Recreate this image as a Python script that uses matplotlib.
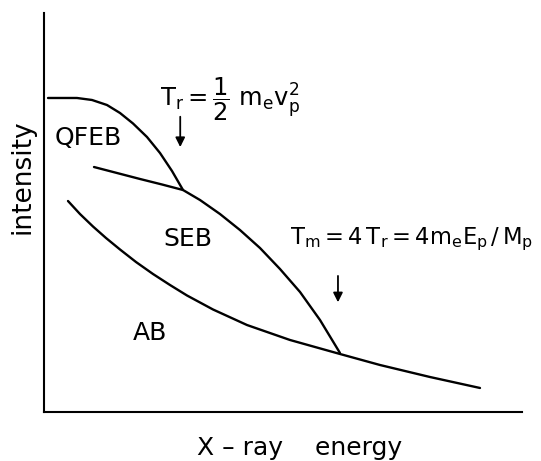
import matplotlib.pyplot as plt

plt.rcParams['font.family'] = 'DejaVu Sans'
plt.rcParams['mathtext.fontset'] = 'dejavusans'
plt.rcParams['mathtext.default'] = 'regular'

# schematic spectrum components (energy, intensity in arbitrary units)
qfeb_x = [0.84, 6.90, 10.04, 13.18, 15.90, 18.62, 21.55, 24.27, 26.78, 29.08]
qfeb_y = [78.70, 78.70, 78.20, 76.94, 74.94, 72.31, 68.92, 64.91, 60.40, 55.64]

seb_x = [10.46, 15.27, 20.08, 24.69, 29.08, 32.64, 36.82, 41.00, 45.19, 49.37, 53.56, 57.74, 61.92]
seb_y = [61.40, 59.90, 58.40, 57.02, 55.64, 53.13, 49.62, 45.61, 41.10, 35.84, 30.08, 23.06, 14.79]

ab_x = [5.02, 7.53, 10.25, 12.97, 15.90, 19.25, 22.80, 26.36, 29.92, 35.36,
        42.47, 51.46, 61.92, 70.29, 80.75, 91.21]
ab_y = [52.88, 49.62, 46.49, 43.61, 40.73, 37.59, 34.59, 31.83, 29.20, 25.69,
        21.80, 18.05, 14.54, 11.78, 8.77, 6.02]

# where the two cut-off energies sit
tr_x, tr_y = 28.5, 65.7
tm_x, tm_y = 61.5, 26.8

fig = plt.figure(figsize=(5.41, 4.61), dpi=100)
ax = fig.add_axes([44/541, 49/461, 478/541, 399/461])

line_kw = dict(color='black', lw=1.7, solid_joinstyle='round', solid_capstyle='round')
ax.plot(qfeb_x, qfeb_y, **line_kw)
ax.plot(seb_x, seb_y, **line_kw)
ax.plot(ab_x, ab_y, **line_kw)

ax.set_xlim(0, 100)
ax.set_ylim(0, 100)
ax.spines['top'].set_visible(False)
ax.spines['right'].set_visible(False)
ax.spines['left'].set_linewidth(1.5)
ax.spines['bottom'].set_linewidth(1.5)
ax.set_xticks([])
ax.set_yticks([])

ax.text(9.2, 68.7, 'QFEB', fontsize=18, ha='center', va='center')
ax.text(30.0, 43.3, 'SEB', fontsize=18, ha='center', va='center')
ax.text(22.2, 19.8, 'AB', fontsize=18, ha='center', va='center')

arrow = dict(arrowstyle='-|>', color='black', lw=1.3, mutation_scale=14)
ax.annotate('', xy=(tr_x, tr_y), xytext=(tr_x, tr_y + 9), arrowprops=arrow)
ax.annotate('', xy=(tm_x, tm_y), xytext=(tm_x, tm_y + 8), arrowprops=arrow)

ax.text(24.3, 78.4, r'$T_r = \dfrac{1}{2}\ m_e v_p^2$', fontsize=17.5,
        ha='left', va='center')
ax.text(51.4, 43.3, r'$T_m = 4\,T_r = 4m_e E_p\,/\,M_p$', fontsize=16.3,
        ha='left', va='center')

fig.text(22/541, 1 - 177/461, 'intensity', fontsize=19, rotation=90,
         ha='center', va='center')
fig.text(300/541, 1 - 448/461, 'X – ray    energy', fontsize=18,
         ha='center', va='center')

fig.savefig('out.png', dpi=100)
